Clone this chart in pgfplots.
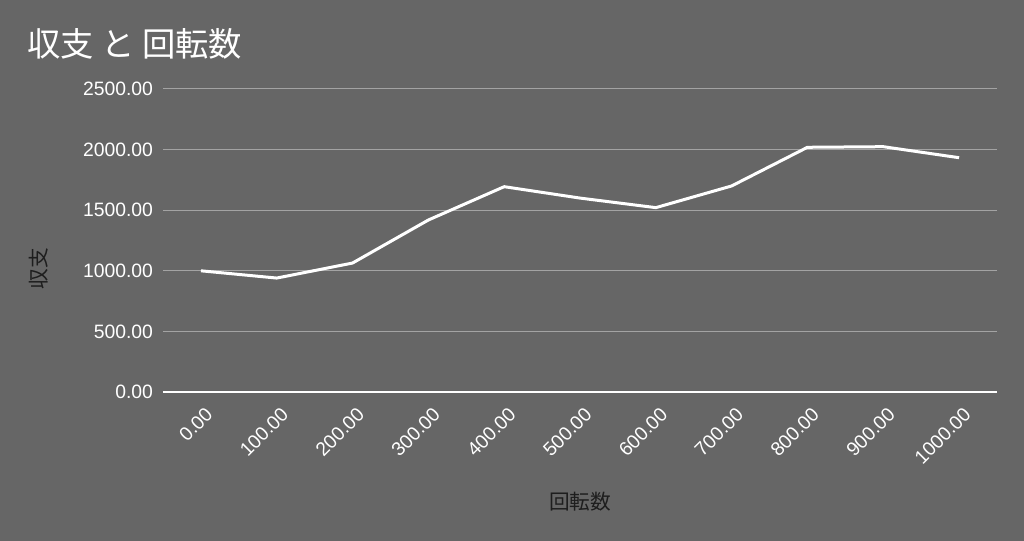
\documentclass[border=0pt]{standalone}
\usepackage{pgfplots}
\pgfplotsset{compat=1.18}
\usepackage{fontspec}
\setmainfont{Liberation Sans}
\newfontfamily\cjk{Noto Sans CJK JP}
\definecolor{bg}{HTML}{666666}
\definecolor{gridc}{HTML}{A3A3A3}
\definecolor{lbl}{HTML}{1E1E1E}
\begin{document}
\begin{tikzpicture}
% 1 px of the reference = 0.75pt
\fill[bg] (0pt,0pt) rectangle (768pt,405.75pt);
\useasboundingbox (0pt,0pt) rectangle (768pt,405.75pt);
\node[anchor=base west, text=white, inner sep=0pt, font=\cjk\fontsize{25}{30}\selectfont] at (20.25pt,363pt) {収支 と 回転数};
\begin{axis}[
    at={(122.25pt,111.75pt)}, anchor=south west,
    scale only axis, width=625.5pt, height=227.25pt,
    xmin=-50, xmax=1050, ymin=0, ymax=2500,
    xtick={0,100,...,1000}, ytick={0,500,...,2500},
    axis x line*=bottom, axis y line*=left,
    x axis line style={white, line width=1.5pt},
    y axis line style={draw=none},
    major tick length=0pt,
    ymajorgrids, major grid style={gridc, line width=0.75pt},
    /pgf/number format/assume math mode=true,
    /pgf/number format/.cd, fixed, fixed zerofill, precision=2, 1000 sep={},
    /pgfplots/.cd,
    ticklabel style={text=white, font=\fontsize{14.5}{17}\selectfont},
    yticklabel style={xshift=-4pt},
    xticklabel style={rotate=45, anchor=east, xshift=-2.3pt, yshift=-14.5pt},
    xlabel={回転数}, ylabel={収支},
    label style={text=lbl, font=\cjk\fontsize{15.5}{18}\selectfont},
    xlabel style={at={(axis description cs:0.5,-0.363)}, anchor=center},
    ylabel style={at={(axis description cs:-0.149,0.406)}, anchor=center},
]
\addplot[white, line width=2.25pt, line join=round] coordinates {
(0,1000) (100,940) (200,1064) (300,1419) (400,1694) (500,1600)
(600,1521) (700,1700) (800,2019) (900,2024) (1000,1933)};
\end{axis}
\end{tikzpicture}
\end{document}
